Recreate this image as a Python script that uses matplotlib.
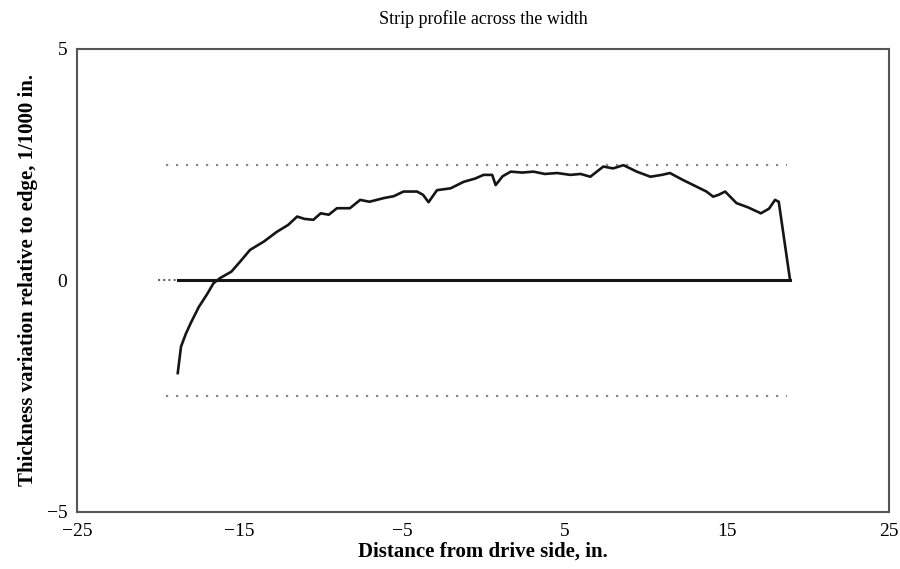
import matplotlib.pyplot as plt

plt.rcParams['font.family'] = ['Liberation Serif', 'DejaVu Serif']

# profile trace (x in inches, y in 1/1000 in.)
prof_x = [-18.8, -18.6, -18.3, -18.0, -17.5, -17.0, -16.6, -16.2, -15.5, -14.95,
          -14.35, -13.5, -12.7, -12.0, -11.45, -11.0, -10.45, -10.0, -9.5, -9.0,
          -8.2, -7.57, -7.0, -6.1, -5.5, -4.9, -4.07, -3.7, -3.36, -2.84,
          -2.0, -1.2, -0.5, 0.03, 0.56, 0.77, 1.2, 1.7, 2.4, 3.1,
          3.8, 4.56, 5.37, 6.0, 6.6, 7.0, 7.4, 8.0, 8.64, 9.46,
          10.3, 11.0, 11.5, 12.3, 13.0, 13.75, 14.16, 14.5, 14.9, 15.6,
          16.3, 17.1, 17.6, 17.97, 18.2, 18.9]
prof_y = [-2.0, -1.43, -1.15, -0.92, -0.57, -0.3, -0.06, 0.05, 0.19, 0.41,
          0.66, 0.84, 1.05, 1.2, 1.38, 1.33, 1.31, 1.45, 1.42, 1.56,
          1.56, 1.74, 1.7, 1.78, 1.82, 1.92, 1.92, 1.85, 1.69, 1.95,
          1.99, 2.13, 2.2, 2.28, 2.28, 2.06, 2.25, 2.35, 2.33, 2.35,
          2.3, 2.32, 2.28, 2.3, 2.24, 2.35, 2.46, 2.42, 2.49, 2.35,
          2.24, 2.28, 2.32, 2.17, 2.05, 1.92, 1.81, 1.85, 1.92, 1.67,
          1.58, 1.45, 1.55, 1.74, 1.70, 0.0]

zero_x = [-18.8, 18.9]
lead_x = [-20.0, -18.8]
limit_x = [-19.5, 18.7]
limits = [2.5, -2.5]

xticks = [-25, -15, -5, 5, 15, 25]
yticks = [-5, 0, 5]

fig = plt.figure(figsize=(9, 5.69), dpi=100)
ax = fig.add_axes([0.0856, 0.1002, 0.9024, 0.8138])

for lim in limits:
    ax.plot(limit_x, [lim, lim], ls=(0, (1, 3.5)), lw=1.6, color='#8a8a8a')

ax.plot(lead_x, [0, 0], ls=(0, (1, 1.5)), lw=1.5, color='#666666')
ax.plot(zero_x, [0, 0], ls='solid', lw=2.2, color='#151515')
ax.plot(prof_x, prof_y, ls='solid', lw=1.9, color='#151515')

ax.set_xlim(-25, 25)
ax.set_ylim(-5, 5)
ax.set_xticks(xticks)
ax.set_yticks(yticks)
ax.tick_params(length=0, labelsize=14)
ax.tick_params(axis='x', pad=8)
ax.tick_params(axis='y', pad=7)
for s in ax.spines.values():
    s.set_color('#555555')
    s.set_linewidth(1.5)
ax.spines['bottom'].set_linestyle((0, (3, 1)))

ax.set_title('Strip profile across the width', fontsize=13, pad=18)
ax.set_xlabel('Distance from drive side, in.', fontsize=15, fontweight='bold', labelpad=1)
ax.set_ylabel('Thickness variation relative to edge, 1/1000 in.', fontsize=15,
              fontweight='bold', labelpad=6)

fig.savefig('out.png', dpi=100)
